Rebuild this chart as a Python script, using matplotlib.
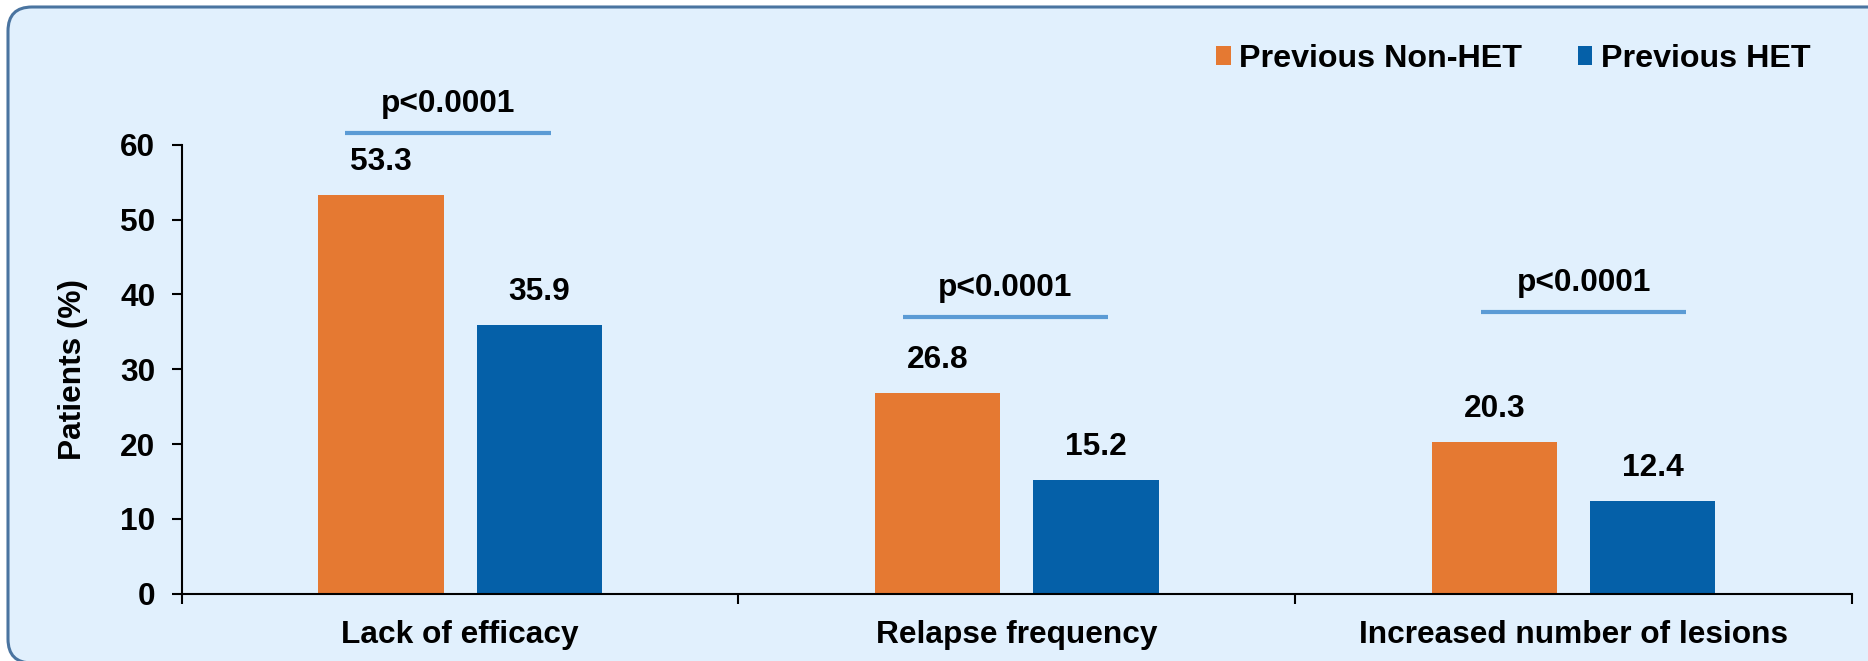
import numpy as np
from matplotlib import pyplot as plt
from matplotlib.patches import FancyBboxPatch, Patch
from matplotlib.transforms import IdentityTransform

categories = ['Lack of efficacy', 'Relapse frequency', 'Increased number of lesions']
series_names = ['Previous Non-HET', 'Previous HET']
non_het = [53.3, 26.8, 20.3]
het = [35.9, 15.2, 12.4]
p_labels = ['p<0.0001', 'p<0.0001', 'p<0.0001']
p_heights = [61.6, 37.0, 37.6]
p_spans = [(-0.207, 0.163), (-0.205, 0.164), (-0.166, 0.202)]
yticks = [0, 10, 20, 30, 40, 50, 60]

orange = '#e57932'
blue = '#0560a8'
pline = '#5b9bd5'
bg = '#e1f0fd'

plt.rcParams['font.family'] = ['Liberation Sans', 'DejaVu Sans']
plt.rcParams['font.weight'] = 'bold'
fs = 22.8

W, H = 1868, 661
fig = plt.figure(figsize=(W / 100, H / 100), dpi=100)
fig.patch.set_facecolor('white')

# rounded panel behind everything, in pixels
box = FancyBboxPatch((8, -2), 1885, H + 2 - 7,
                     boxstyle='round,pad=0,rounding_size=24',
                     transform=IdentityTransform(), facecolor=bg,
                     edgecolor='#4a74a0', linewidth=2.2, zorder=-5)
fig.patches.append(box)

ax = fig.add_axes([181.7 / W, 67.3 / H, 1670.3 / W, 449 / H])
ax.set_facecolor('none')
ax.set_zorder(2)

x = np.arange(len(categories))
bw = 0.225
off = 0.142
b1 = ax.bar(x - off, non_het, bw, color=orange, label=series_names[0])
b2 = ax.bar(x + off, het, bw, color=blue, label=series_names[1])

for bars in (b1, b2):
    for r in bars:
        ax.annotate(f'{r.get_height():.1f}', (r.get_x() + r.get_width() / 2, r.get_height()),
                    xytext=(0, 13), textcoords='offset points', ha='center', va='bottom',
                    fontsize=fs, fontweight='bold')

for i in range(len(categories)):
    x0, x1 = p_spans[i]
    ax.plot([i + x0, i + x1], [p_heights[i], p_heights[i]], color=pline, lw=3,
            solid_capstyle='butt', clip_on=False)
    ax.annotate(p_labels[i], (i + (x0 + x1) / 2, p_heights[i]), xytext=(0, 10),
                textcoords='offset points', ha='center', va='bottom',
                fontsize=fs, fontweight='bold', annotation_clip=False)

ax.set_xlim(-0.5, len(categories) - 0.5)
ax.set_ylim(0, 60)
ax.set_yticks(yticks)
ax.set_xticks(x)
ax.set_xticklabels(categories)
ax.set_xticks(np.arange(len(categories) + 1) - 0.5, minor=True)
ax.tick_params(axis='x', which='major', length=0, pad=19, labelsize=fs)
ax.tick_params(axis='x', which='minor', length=7, width=1.5, direction='out')
ax.tick_params(axis='y', length=7, width=1.5, pad=12, labelsize=fs)

for s in ('top', 'right'):
    ax.spines[s].set_visible(False)
for s in ('left', 'bottom'):
    ax.spines[s].set_linewidth(1.5)

ax.set_ylabel('Patients (%)', fontsize=fs, fontweight='bold')
ax.yaxis.set_label_coords(-0.056, 0.5)

handles = [Patch(facecolor=orange), Patch(facecolor=blue)]
leg = fig.legend(handles, series_names, loc='center left',
                 bbox_to_anchor=(1216 / W, 1 - 59 / H), ncol=2, frameon=False,
                 fontsize=23.2, handlelength=0.45, handleheight=0.5,
                 handletextpad=0.26, columnspacing=1.74, borderaxespad=0,
                 borderpad=0)

fig.savefig('out.png', dpi=100, facecolor=fig.get_facecolor())
